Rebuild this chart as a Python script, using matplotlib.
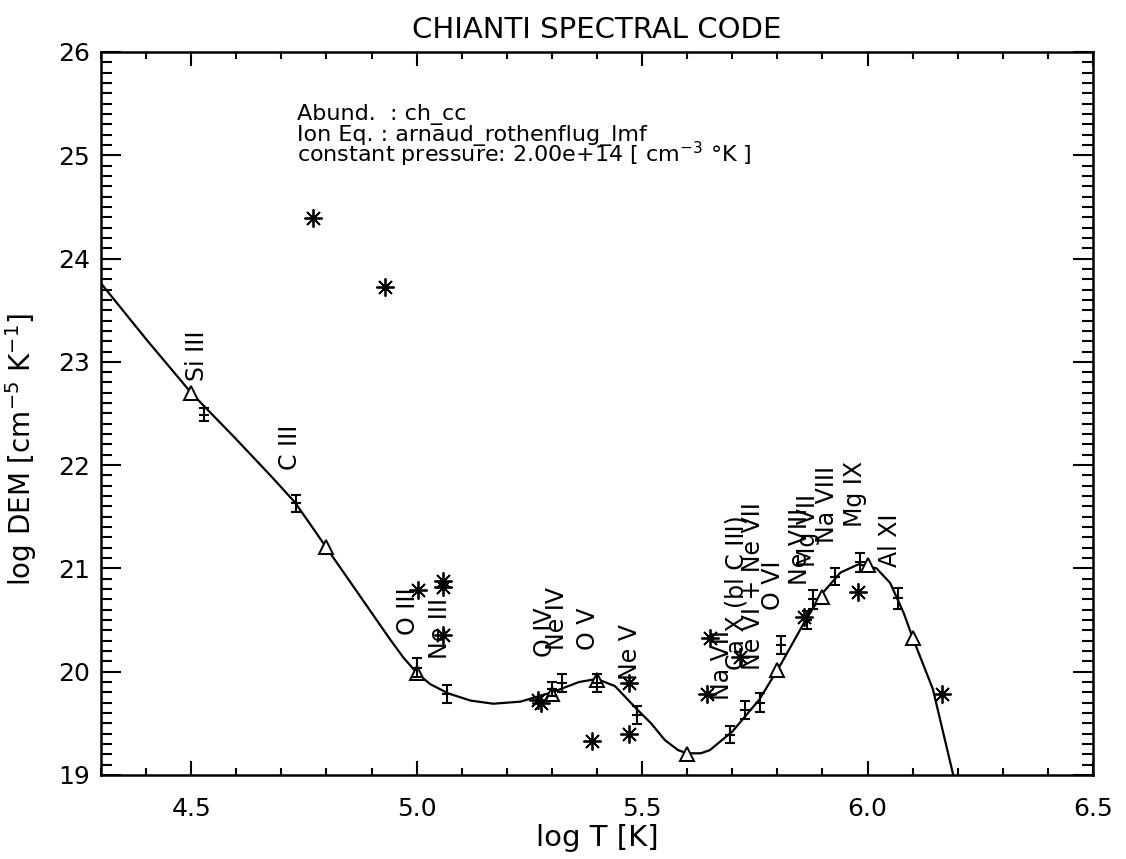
import matplotlib.pyplot as plt
from matplotlib.ticker import MultipleLocator

plt.switch_backend('agg')

# DEM curve (log T, log DEM)
curve_logt = [4.30, 4.40, 4.50, 4.60, 4.68, 4.73, 4.77, 4.80, 4.87, 4.94, 4.97, 5.00,
              5.03, 5.07, 5.12, 5.17, 5.23, 5.30, 5.36, 5.40, 5.44, 5.49, 5.52, 5.55,
              5.58, 5.60, 5.63, 5.65, 5.70, 5.76, 5.81, 5.86, 5.90, 5.94, 5.98, 6.02,
              6.05, 6.08, 6.10, 6.145, 6.19]
curve_dem = [23.76, 23.22, 22.70, 22.25, 21.88, 21.64, 21.39, 21.20, 20.76, 20.32, 20.14, 19.99,
             19.88, 19.79, 19.72, 19.69, 19.71, 19.80, 19.90, 19.93, 19.86, 19.63, 19.50, 19.34,
             19.24, 19.21, 19.21, 19.24, 19.42, 19.73, 20.09, 20.48, 20.76, 20.96, 21.04, 21.00,
             20.86, 20.57, 20.33, 19.83, 19.00]

# open triangles
tri_logt = [4.50, 4.80, 5.00, 5.30, 5.40, 5.60, 5.80, 5.90, 6.00, 6.10]
tri_dem = [22.70, 21.21, 19.99, 19.78, 19.92, 19.20, 20.02, 20.72, 21.03, 20.33]

# asterisks
ast_logt = [4.77, 4.93, 5.003, 5.058, 5.058, 5.058, 5.27, 5.275, 5.39, 5.47,
            5.47, 5.643, 5.65, 5.717, 5.859, 5.978, 6.165]
ast_dem = [24.39, 23.72, 20.79, 20.88, 20.82, 20.36, 19.73, 19.70, 19.33, 19.89,
           19.40, 19.78, 20.33, 20.14, 20.53, 20.77, 19.78]

# points with error bars
err_logt = [4.528, 4.732, 5.00, 5.067, 5.30, 5.322, 5.40, 5.488, 5.695, 5.728,
            5.761, 5.807, 5.865, 5.879, 5.928, 5.983, 6.067]
err_dem = [22.49, 21.63, 20.04, 19.78, 19.83, 19.89, 19.89, 19.58, 19.39, 19.63,
           19.70, 20.26, 20.50, 20.70, 20.92, 21.06, 20.71]
err_size = [0.06, 0.085, 0.09, 0.087, 0.07, 0.09, 0.09, 0.09, 0.085, 0.09,
            0.09, 0.09, 0.09, 0.09, 0.08, 0.09, 0.10]

# ion labels
ion_names = ['Si III', 'C III', 'O III', 'Ne III', 'O IV', 'Ne IV', 'O V', 'Ne V',
             'Na VII', 'Ca X (bl C III)', 'Ne VI + Ne VII', 'O VI', 'Ne VIII',
             'Mg VII', 'Na VIII', 'Mg IX', 'Al XI']
ion_logt = [4.513, 4.719, 4.98, 5.052, 5.284, 5.311, 5.38, 5.473,
            5.677, 5.71, 5.746, 5.79, 5.85, 5.868, 5.91, 5.972, 6.05]
ion_dem = [22.81, 21.95, 20.36, 20.12, 20.14, 20.21, 20.21, 19.92,
           19.73, 20.02, 20.02, 20.60, 20.84, 21.01, 21.25, 21.40, 21.01]

info_lines = ['Abund.  : ch_cc',
              'Ion Eq. : arnaud_rothenflug_lmf',
              'constant pressure: 2.00e+14 [ cm$^{-3}$ °K ]']

fig = plt.figure(figsize=(11.26, 8.59), dpi=100)
ax = fig.add_axes([0.0897, 0.0978, 0.881, 0.8417])

ax.plot(curve_logt, curve_dem, color='black', linewidth=1.6, zorder=2)
ax.plot(tri_logt, tri_dem, linestyle='none', marker='^', markersize=10,
        markerfacecolor='white', markeredgecolor='black', markeredgewidth=1.4, zorder=3)
ax.plot(ast_logt, ast_dem, linestyle='none', marker=(8, 2, 0), markersize=13,
        color='black', markeredgewidth=1.3, zorder=4)
ax.errorbar(err_logt, err_dem, yerr=err_size, fmt='none', ecolor='black',
            elinewidth=1.5, capsize=3.6, capthick=1.5, zorder=4)
ax.plot(err_logt, err_dem, linestyle='none', marker='_', markersize=7,
        color='black', markeredgewidth=1.5, zorder=4)

for name, t, d in zip(ion_names, ion_logt, ion_dem):
    ax.text(t, d, name, rotation=90, ha='center', va='bottom', fontsize=17)

for i, line in enumerate(info_lines):
    ax.text(4.735, 25.34 - 0.205 * i, line, fontsize=16, va='baseline', ha='left')

ax.set_xlim(4.3, 6.5)
ax.set_ylim(19, 26)
ax.xaxis.set_major_locator(MultipleLocator(0.5))
ax.xaxis.set_minor_locator(MultipleLocator(0.1))
ax.yaxis.set_major_locator(MultipleLocator(1))
ax.yaxis.set_minor_locator(MultipleLocator(0.1))
ax.set_xticks([4.5, 5.0, 5.5, 6.0, 6.5])
ax.set_xticklabels(['4.5', '5.0', '5.5', '6.0', '6.5'])

ax.tick_params(axis='both', which='both', direction='in', top=True, right=True,
               width=1.5, labelsize=18)
ax.tick_params(axis='x', which='major', length=10, pad=16)
ax.tick_params(axis='x', which='minor', length=5)
ax.tick_params(axis='y', which='major', length=14.5, pad=8)
ax.tick_params(axis='y', which='minor', length=8)
for sp in ax.spines.values():
    sp.set_linewidth(1.8)

ax.set_xlabel('log T [K]', fontsize=21, labelpad=2)
ax.set_ylabel('log DEM [cm$^{-5}$ K$^{-1}$]', fontsize=20)
ax.yaxis.set_label_coords(-0.063, 0.45)
ax.set_title('CHIANTI SPECTRAL CODE', fontsize=21, pad=10)

fig.savefig('out.png', dpi=100)
plt.close(fig)
